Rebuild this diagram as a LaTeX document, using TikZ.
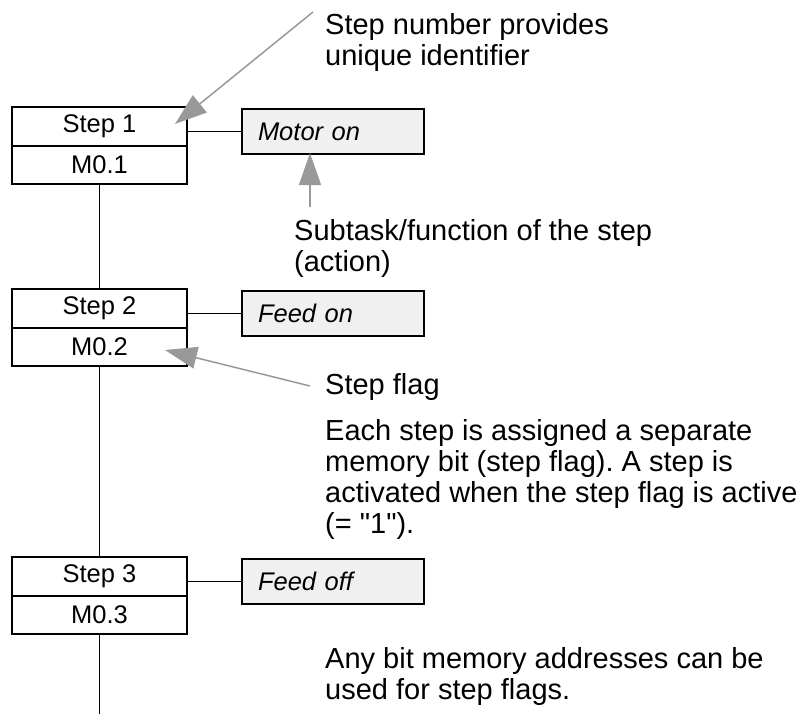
\documentclass[tikz,border=0pt]{standalone}
\usepackage{fontspec}
\setmainfont{Liberation Sans}
\usetikzlibrary{arrows.meta,positioning}
\frenchspacing

\tikzset{
  stepcell/.style={draw, line width=1.8pt, outer sep=0pt, minimum width=175pt,
    minimum height=38.5pt, inner sep=0pt, font=\fontsize{25.5}{30}\selectfont},
  action/.style={draw, line width=1.8pt, outer sep=0pt, fill=gray!12, align=left,
    text width=150pt, inner xsep=16pt, minimum height=45pt, inner ysep=0pt,
    font=\fontsize{25.5}{30}\selectfont\itshape},
  link/.style={line width=1.4pt},
  pointer/.style={draw=black!40, line width=1.5pt,
    -{Triangle[length=32pt,width=22pt,fill=black!40]}},
  note/.style={anchor=base west, align=left, inner sep=0pt,
    font=\fontsize{29}{31}\selectfont}
}

\begin{document}
\begin{tikzpicture}[x=1pt, y=-1pt]
        \useasboundingbox (0,0) rectangle (802,714);

        % Schritte (Schrittnummer oben, Schrittmerker unten)
        \node[stepcell] (s1) at (99.5,126.5) {Step 1};
        \node[stepcell, below=0pt of s1] (f1) {M0.1};
        \node[stepcell] (s2) at (99.5,308.5) {Step 2};
        \node[stepcell, below=0pt of s2] (f2) {M0.2};
        \node[stepcell] (s3) at (99.5,576.5) {Step 3};
        \node[stepcell, below=0pt of s3] (f3) {M0.3};

        % Aktionen
        \node[action] (a1) at (333,131.5) {Motor on};
        \node[action] (a2) at (333,313.5) {Feed on};
        \node[action] (a3) at (333,581.5) {Feed off};

        % Verbindungen
        \coordinate (end) at (99.5,714);
        \draw[link] (f1.south) -- (s2.north);
        \draw[link] (f2.south) -- (s3.north);
        \draw[link] (f3.south) -- (end);
        \draw[link] (a1.west) -- (a1.west -| s1.east);
        \draw[link] (a2.west) -- (a2.west -| s2.east);
        \draw[link] (a3.west) -- (a3.west -| s3.east);

        % Erklaerungen (base = letzte Zeile)
        \node[note] (n1) at (325,66) {Step number provides\\unique identifier};
        \node[note] (n2) at (294,271) {Subtask/function of the step\\(action)};
        \node[note] (n3) at (325,394) {Step flag};
        \node[note] (n4) at (325,533) {Each step is assigned a separate\\memory bit (step flag). A step is\\activated when the step flag is active\\(= \textquotedbl 1\textquotedbl).};
        \node[note] (n5) at (325,699) {Any bit memory addresses can be\\used for step flags.};

        % Hinweispfeile
        \coordinate (p1) at (313,12);
        \coordinate (t1) at (175,124);
        \coordinate (p2) at (310,207);
        \coordinate (t2) at (310,153);
        \coordinate (p3) at (310,386);
        \coordinate (t3) at (165,350);
        \draw[pointer] (p1) -- (t1);
        \draw[pointer] (p2) -- (t2);
        \draw[pointer] (p3) -- (t3);

    \end{tikzpicture}
\end{document}
